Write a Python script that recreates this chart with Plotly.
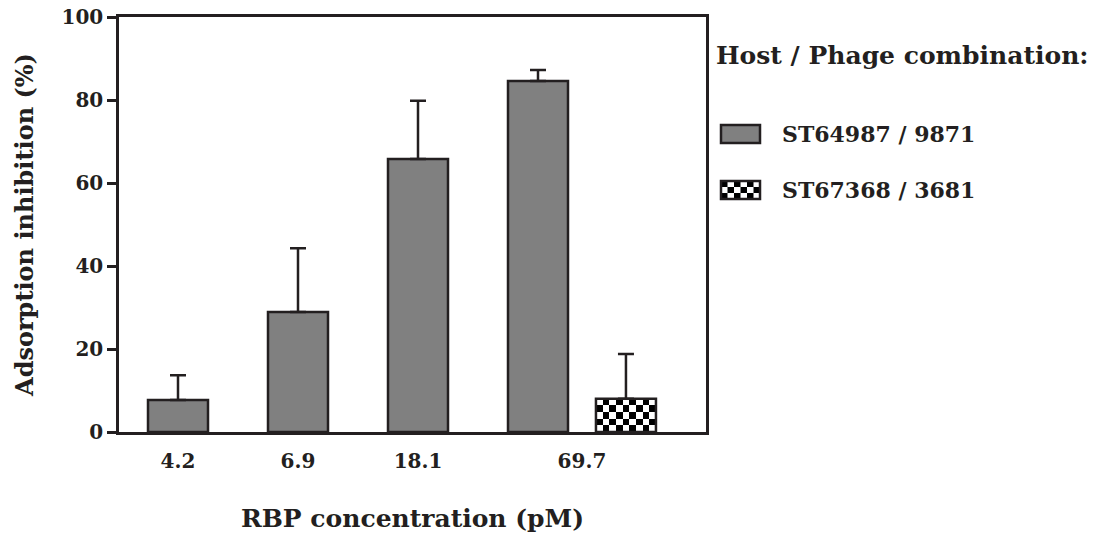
import numpy as np
import plotly.graph_objects as go

# ---- data ----
concentrations = ["4.2", "6.9", "18.1", "69.7"]
series_names = ["ST64987 / 9871", "ST67368 / 3681"]
s1_values = [7.7, 28.9, 65.8, 84.6]
s1_errors = [6.0, 15.4, 14.0, 2.6]
s2_concentration = "69.7"
s2_values = [8.0]
s2_errors = [10.8]

# ---- styling / layout constants ----
FONT = "DejaVu Serif"
INK = "#231f20"
GRAY = "#808080"
BAR_W = 0.5
S2_OFFSET = 0.733
LW = 2.5

grp = {c: i for i, c in enumerate(concentrations)}
x1 = [grp[c] for c in concentrations]
x2 = [grp[s2_concentration] + S2_OFFSET]

fig = go.Figure()

# checkerboard fill for series 2 (heatmap underneath the outlined bar)
ncols = 9
for xc, v in zip(x2, s2_values):
    nrows = max(1, int(round(v / 1.6)))
    xe = np.linspace(xc - BAR_W / 2, xc + BAR_W / 2, ncols + 1)
    ye = np.linspace(0, v, nrows + 1)
    z = [[(i + j) % 2 for j in range(ncols)] for i in range(nrows)]
    fig.add_trace(go.Heatmap(x=xe, y=ye, z=z, zmin=0, zmax=1,
                             colorscale=[[0, "white"], [1, "black"]],
                             showscale=False, hoverinfo="skip"))

fig.add_trace(go.Bar(
    x=x1, y=s1_values, width=BAR_W, name=series_names[0],
    marker=dict(color=GRAY, line=dict(color=INK, width=LW)),
    error_y=dict(type="data", symmetric=False, array=s1_errors,
                 arrayminus=[0] * len(s1_errors), color=INK,
                 thickness=LW, width=8),
    showlegend=False))

fig.add_trace(go.Bar(
    x=x2, y=s2_values, width=BAR_W, name=series_names[1],
    marker=dict(color="rgba(0,0,0,0)", line=dict(color=INK, width=LW)),
    error_y=dict(type="data", symmetric=False, array=s2_errors,
                 arrayminus=[0] * len(s2_errors), color=INK,
                 thickness=LW, width=8),
    showlegend=False))

# tick positions: group centers (69.7 is centered between its two bars)
tickvals = []
for c in concentrations:
    xs = [grp[c]] + ([grp[c] + S2_OFFSET] if c == s2_concentration else [])
    tickvals.append(float(np.mean(xs)))

L, R, T, B = 119, 400, 17, 108
W, H = 1106, 540
pw, ph = W - L - R, H - T - B

def px_x(p):
    return (p - L) / pw

def px_y(p):
    return (H - B - p) / ph

# manual legend
shapes = []
annotations = [dict(text="<b>Host / Phage combination:</b>", xref="paper", yref="paper",
                    x=px_x(714), y=px_y(55), xanchor="left", yanchor="middle",
                    showarrow=False, font=dict(family=FONT, size=25, color=INK))]
leg_y = [134, 190]
sw_x0, sw_x1, sw_h = 721, 760, 18
for k, name in enumerate(series_names):
    cy = leg_y[k]
    y0, y1 = cy - sw_h / 2, cy + sw_h / 2
    if k == 0:
        shapes.append(dict(type="rect", xref="paper", yref="paper",
                           x0=px_x(sw_x0), x1=px_x(sw_x1), y0=px_y(y1), y1=px_y(y0),
                           fillcolor=GRAY, line=dict(color=INK, width=LW)))
    else:
        nc, nr = 6, 3
        cw, chh = (sw_x1 - sw_x0) / nc, sw_h / nr
        for i in range(nr):
            for j in range(nc):
                if (i + j) % 2 == 0:
                    shapes.append(dict(type="rect", xref="paper", yref="paper",
                                       x0=px_x(sw_x0 + j * cw), x1=px_x(sw_x0 + (j + 1) * cw),
                                       y0=px_y(y0 + (i + 1) * chh), y1=px_y(y0 + i * chh),
                                       fillcolor="black", line=dict(width=0)))
        shapes.append(dict(type="rect", xref="paper", yref="paper",
                           x0=px_x(sw_x0), x1=px_x(sw_x1), y0=px_y(y1), y1=px_y(y0),
                           fillcolor="rgba(0,0,0,0)", line=dict(color=INK, width=LW)))
    annotations.append(dict(text=f"<b>{name}</b>", xref="paper", yref="paper",
                            x=px_x(780), y=px_y(cy), xanchor="left", yanchor="middle",
                            showarrow=False, font=dict(family=FONT, size=22, color=INK)))

fig.update_layout(
    width=W, height=H,
    margin=dict(l=L, r=R, t=T, b=B, autoexpand=False),
    paper_bgcolor="white", plot_bgcolor="white",
    font=dict(family=FONT, color=INK),
    barmode="overlay",
    shapes=shapes, annotations=annotations,
    xaxis=dict(range=[-0.4917, 4.4], tickmode="array", tickvals=tickvals,
               ticktext=[f"<b>{c}</b>" for c in concentrations],
               tickfont=dict(family=FONT, size=20, color=INK),
               ticks="", ticklabelstandoff=9,
               showline=True, linecolor=INK, linewidth=LW, mirror=True,
               showgrid=False, zeroline=False,
               title=dict(text="<b>RBP concentration (pM)</b>", standoff=38,
                          font=dict(family=FONT, size=25, color=INK))),
    yaxis=dict(range=[0, 100], tickmode="array", tickvals=[0, 20, 40, 60, 80, 100],
               ticktext=[f"<b>{v}</b>" for v in [0, 20, 40, 60, 80, 100]],
               tickfont=dict(family=FONT, size=20, color=INK),
               ticks="outside", ticklen=9, tickwidth=LW, tickcolor=INK,
               showline=True, linecolor=INK, linewidth=LW, mirror=True,
               showgrid=False, zeroline=False,
               title=dict(text="<b>Adsorption inhibition (%)</b>", standoff=22,
                          font=dict(family=FONT, size=24, color=INK))),
)

fig.write_html("out.html")
